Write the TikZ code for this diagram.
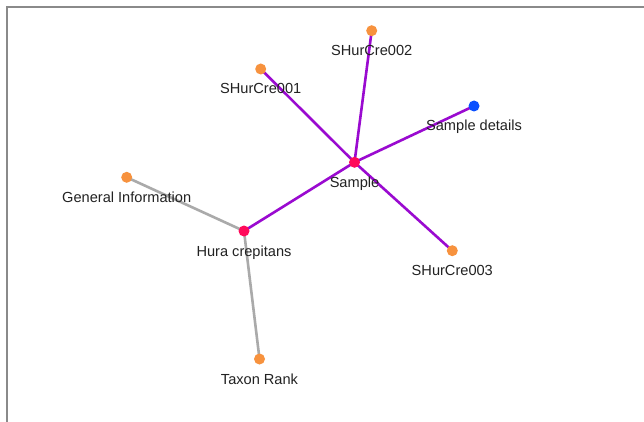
\documentclass[tikz,border=0pt]{standalone}
\usepackage{fontspec}
\setmainfont{Liberation Sans}
\begin{document}
\begin{tikzpicture}[x=1pt,y=-1pt,
  dot/.style={circle,inner sep=0pt,minimum size=11pt},
  orangedot/.style={dot,fill=dotorange},
  pinkdot/.style={dot,fill=dotpink},
  bluedot/.style={dot,fill=dotblue},
  lbl/.style={anchor=base,inner sep=0pt,text=labeltext,font=\fontsize{14.6}{16}\selectfont},
  purpleedge/.style={draw=edgepurple,line width=2.6pt},
  grayedge/.style={draw=edgegray,line width=2.6pt}]
\definecolor{dotorange}{HTML}{F7923E}
\definecolor{dotpink}{HTML}{FF0A5A}
\definecolor{dotblue}{HTML}{0A50FF}
\definecolor{edgepurple}{HTML}{9A0AD0}
\definecolor{edgegray}{HTML}{AAAAAA}
\definecolor{labeltext}{HTML}{222222}
\definecolor{framegray}{HTML}{8A8A8A}
\useasboundingbox (0,0) rectangle (644,422);
\fill[white] (0,0) rectangle (644,422);
\draw[framegray,line width=2pt] (7,422) -- (7,7.5) -- (644,7.5);
% node positions
\coordinate (pS) at (354.5,162.3);
\coordinate (pH) at (244,231);
\coordinate (p2) at (371.7,30.7);
\coordinate (p1) at (260.7,69);
\coordinate (pD) at (474,106);
\coordinate (p3) at (452.3,250.7);
\coordinate (pG) at (126.7,177.3);
\coordinate (pT) at (259.5,359);
% edges
\path[purpleedge] (pS) -- (p2);
\path[purpleedge] (pS) -- (p1);
\path[purpleedge] (pS) -- (pD);
\path[purpleedge] (pS) -- (p3);
\path[purpleedge] (pS) -- (pH);
\path[grayedge] (pH) -- (pG);
\path[grayedge] (pH) -- (pT);
% dots
\node[pinkdot] (S) at (pS) {};
\node[pinkdot] (H) at (pH) {};
\node[orangedot] (n2) at (p2) {};
\node[orangedot] (n1) at (p1) {};
\node[bluedot] (D) at (pD) {};
\node[orangedot] (n3) at (p3) {};
\node[orangedot] (G) at (pG) {};
\node[orangedot] (T) at (pT) {};
% labels
\node[lbl] (lS) at ([yshift=-25pt]pS) {Sample};
\node[lbl] (lH) at ([yshift=-25pt]pH) {Hura crepitans};
\node[lbl] (l2) at ([yshift=-25pt]p2) {SHurCre002};
\node[lbl] (l1) at ([yshift=-25pt]p1) {SHurCre001};
\node[lbl] (lD) at ([yshift=-25pt]pD) {Sample details};
\node[lbl] (l3) at ([yshift=-25pt]p3) {SHurCre003};
\node[lbl] (lG) at ([yshift=-25pt]pG) {General Information};
\node[lbl] (lT) at ([yshift=-25pt]pT) {Taxon Rank};
\end{tikzpicture}
\end{document}
